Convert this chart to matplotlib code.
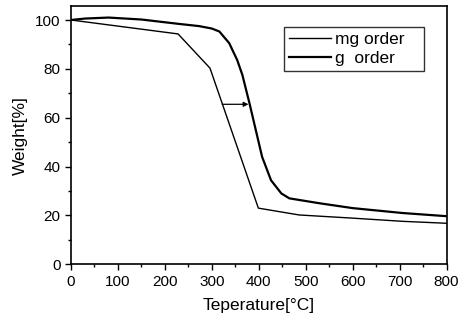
import matplotlib
matplotlib.use('AGG')
import matplotlib.pyplot as plt
from matplotlib.ticker import MultipleLocator

plt.rcParams['font.family'] = ['Liberation Sans', 'DejaVu Sans']

# TGA curves
mg_temp = [0, 228, 296, 399, 486, 600, 706, 800]
mg_weight = [100, 94.3, 80.3, 23, 20.2, 18.9, 17.6, 16.8]

g_temp = [0, 30, 80, 150, 230, 273, 300, 316, 337, 354, 365, 380, 407, 426, 448, 465, 529, 600, 706, 800]
g_weight = [100, 100.6, 101, 100.2, 98.4, 97.5, 96.5, 95.3, 90.5, 83.6, 77.5, 66, 44, 34.4, 29, 27, 25, 23, 21, 19.7]

arrow_from = (322, 65.5)
arrow_to = (378, 65.5)

fig = plt.figure(figsize=(4.66, 3.2), dpi=100)
ax = fig.add_axes([0.1524, 0.174, 0.806, 0.807])

ax.plot(mg_temp, mg_weight, color='black', linewidth=1.0, label='mg order   ')
ax.plot(g_temp, g_weight, color='black', linewidth=1.6, label='g  order')

ax.annotate('', xy=arrow_to, xytext=arrow_from,
            arrowprops=dict(arrowstyle='-|>', color='black', lw=0.9,
                            mutation_scale=7, shrinkA=0, shrinkB=0))

ax.set_xlim(0, 800)
ax.set_ylim(0, 105.7)
ax.xaxis.set_major_locator(MultipleLocator(100))
ax.xaxis.set_minor_locator(MultipleLocator(50))
ax.yaxis.set_major_locator(MultipleLocator(20))
ax.yaxis.set_minor_locator(MultipleLocator(10))
ax.tick_params(which='major', direction='out', length=4, width=1, labelsize=11)
ax.tick_params(which='minor', direction='out', length=2, width=1)
for s in ax.spines.values():
    s.set_linewidth(1.2)

ax.set_xlabel('Teperature[°C]', fontsize=12.5, labelpad=7)
ax.set_ylabel('Weight[%]', fontsize=12.5, labelpad=5)

leg = ax.legend(loc='upper right', bbox_to_anchor=(0.941, 0.919), fontsize=12.5,
                frameon=True, fancybox=False, edgecolor='black', handlelength=2.4,
                handletextpad=0.25, borderpad=0.3, labelspacing=0.2, borderaxespad=0)
leg.get_frame().set_linewidth(1.0)

fig.savefig('out.png', dpi=100)
